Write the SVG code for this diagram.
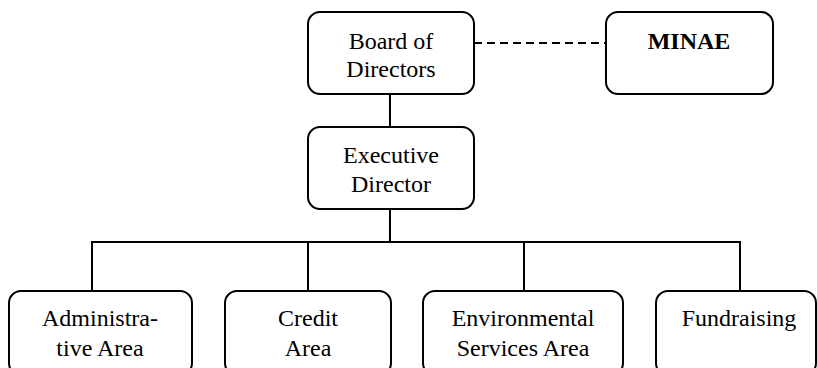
<svg xmlns="http://www.w3.org/2000/svg" width="817" height="368" viewBox="0 0 817 368">
  <style>
    .box { fill: #ffffff; stroke: #000000; stroke-width: 2; }
    .lbl { font-size: 24px; fill: #000000; text-anchor: middle; }
    .bold { font-weight: bold; }
    .link { stroke: #000000; stroke-width: 2; fill: none; }
    .dash { stroke-dasharray: 8 5; }
  </style>
  <rect width="817" height="368" fill="#ffffff"/>

  <!-- connectors -->
  <g id="connectors">
    <line class="link dash" x1="474" y1="43" x2="606" y2="43"/>
    <line class="link" x1="390" y1="94" x2="390" y2="127"/>
    <line class="link" x1="390" y1="209" x2="390" y2="242"/>
    <polyline class="link" points="92,291 92,242 740,242 740,291"/>
    <line class="link" x1="308" y1="242" x2="308" y2="291"/>
    <line class="link" x1="524" y1="242" x2="524" y2="291"/>
  </g>

  <g font-family="Liberation Serif, serif">
    <g id="board">
      <rect class="box" x="308" y="12" width="166" height="82" rx="12"/>
      <text class="lbl" x="391" y="49">Board of</text>
      <text class="lbl" x="391" y="77">Directors</text>
    </g>

    <g id="minae">
      <rect class="box" x="606" y="12" width="167" height="82" rx="12"/>
      <text class="lbl bold" x="689" y="49">MINAE</text>
    </g>

    <g id="executive">
      <rect class="box" x="308" y="127" width="166" height="82" rx="12"/>
      <text class="lbl" x="391" y="163">Executive</text>
      <text class="lbl" x="391" y="192">Director</text>
    </g>

    <g id="administrative">
      <rect class="box" x="9" y="291" width="183" height="84" rx="12"/>
      <text class="lbl" x="100" y="326">Administra-</text>
      <text class="lbl" x="100" y="356">tive Area</text>
    </g>

    <g id="credit">
      <rect class="box" x="225" y="291" width="166" height="84" rx="12"/>
      <text class="lbl" x="308" y="326">Credit</text>
      <text class="lbl" x="308" y="356">Area</text>
    </g>

    <g id="environmental">
      <rect class="box" x="423" y="291" width="200" height="84" rx="12"/>
      <text class="lbl" x="523" y="326">Environmental</text>
      <text class="lbl" x="523" y="356">Services Area</text>
    </g>

    <g id="fundraising">
      <rect class="box" x="656" y="291" width="160" height="84" rx="12"/>
      <text class="lbl" x="739" y="326">Fundraising</text>
    </g>
  </g>
</svg>
